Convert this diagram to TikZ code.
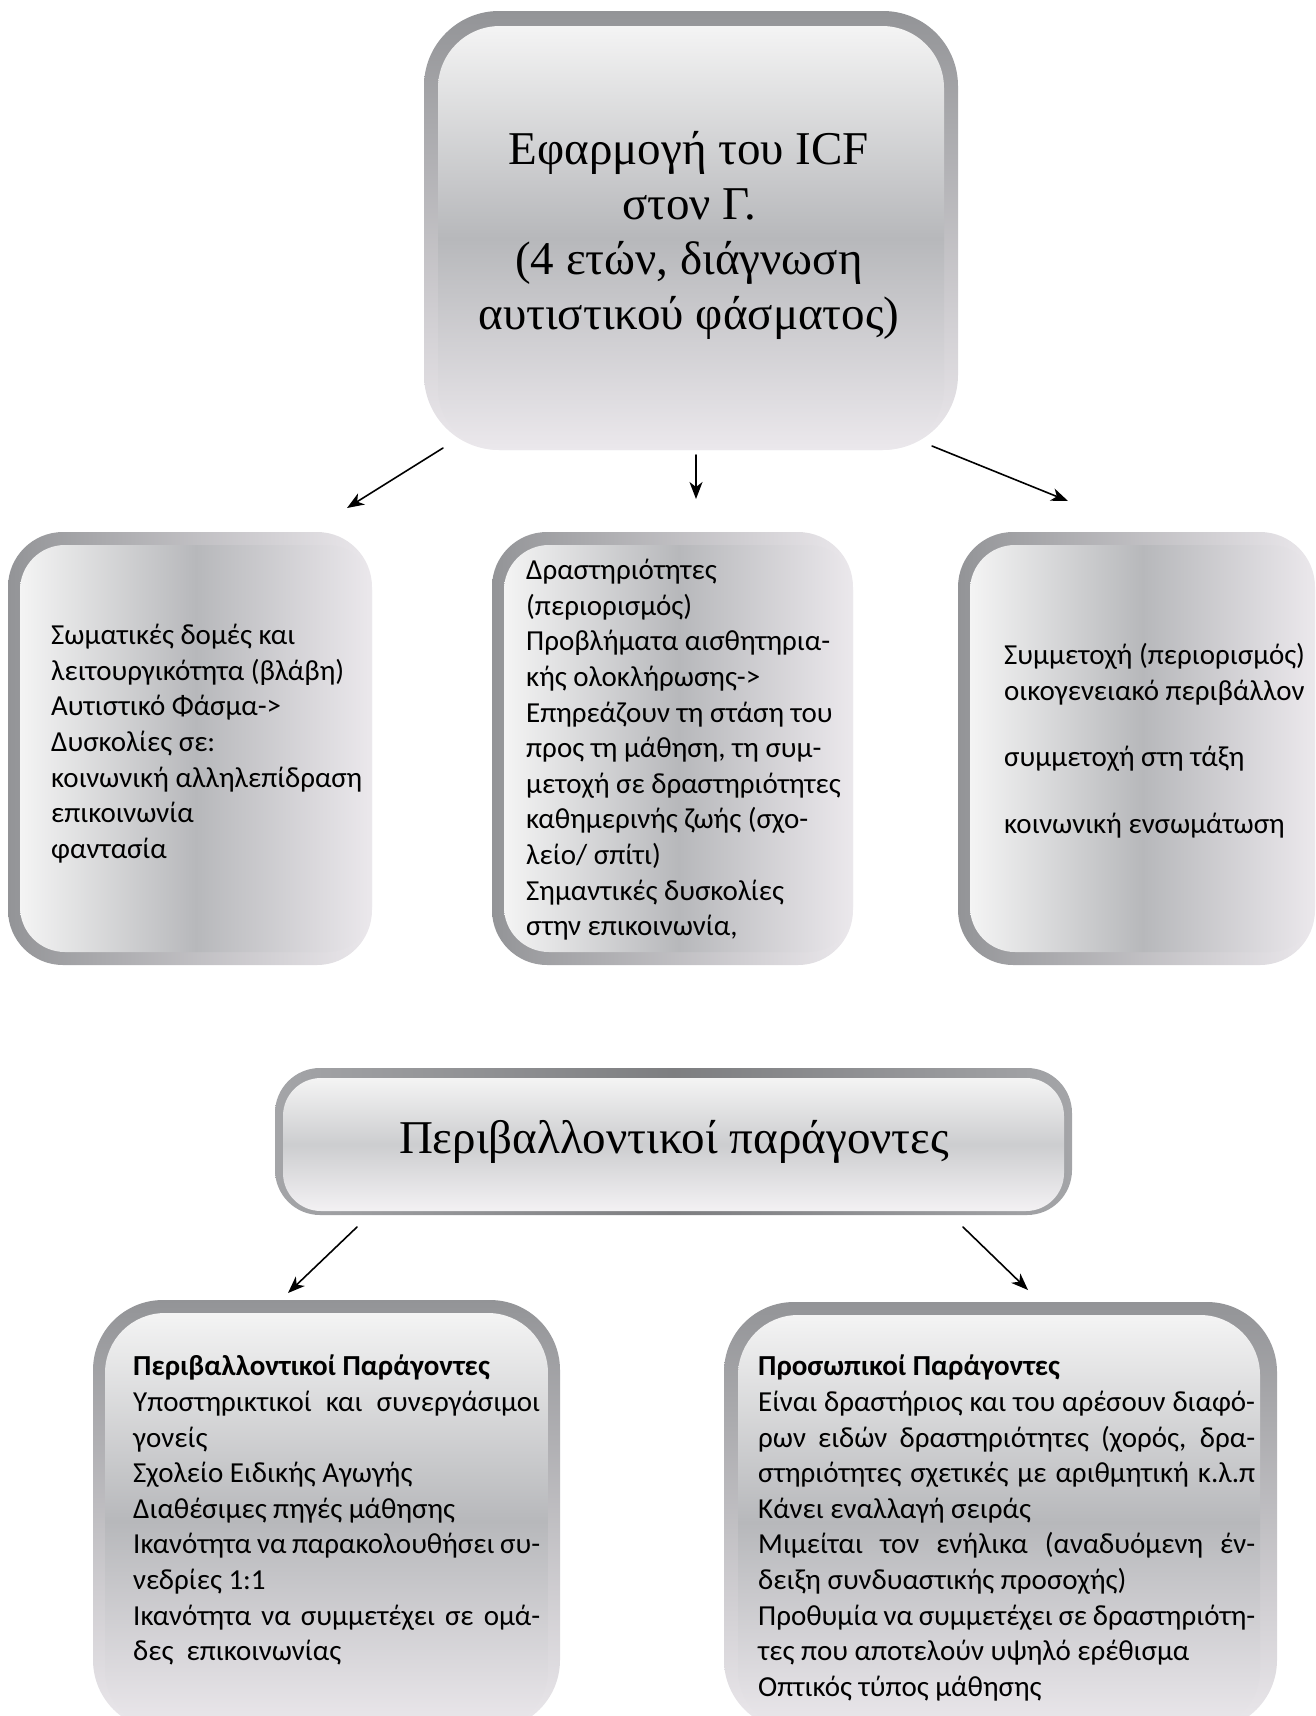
\documentclass[tikz,border=0pt]{standalone}
\usepackage{fontspec}
\setmainfont{Liberation Serif}
\newfontfamily\bodyfont{Carlito}
\usetikzlibrary{arrows.meta}
\definecolor{ptop}{HTML}{F4F4F4}
\definecolor{pmid}{HTML}{B7B8BB}
\definecolor{pbot}{HTML}{EBE8EC}
\definecolor{frame}{HTML}{939497}
\definecolor{hframe}{HTML}{A4A5A8}
\newcommand{\jline}[2]{\makebox[#1][s]{#2}}
\begin{document}
\begin{tikzpicture}[x=1pt,y=-1pt,line join=round,line cap=round,
  vpanel/.style={top color=ptop,bottom color=pbot,middle color=pmid},
  hpanel/.style={left color=ptop,right color=pbot,middle color=pmid},
  vframe/.style={top color=frame,bottom color=pbot},
  hframe/.style={left color=frame,right color=pbot},
  head/.style={font=\fontsize{47}{55}\selectfont,align=center,inner sep=0pt},
  txt/.style={font=\bodyfont\fontsize{29}{35.6}\selectfont,align=left,anchor=north west,inner sep=0pt},
  arr/.style={-{Stealth[length=17pt,width=13pt,inset=5pt]},line width=1.6pt}]
 \useasboundingbox (0,0) rectangle (1315,1716);
 % main box
 \shade[vframe,rounded corners=75] (424,11) rectangle (958,450);
 \shade[vpanel,rounded corners=62] (438,26) rectangle (944,450);
 \node[head] (icf) at (689,235) {Εφαρμογή του ICF\\στον Γ.\\(4 ετών, διάγνωση\\αυτιστικού φάσματος)};
 % three components
 \foreach \x/\w in {8/364,492/361,958/357}{
   \shade[hframe,rounded corners=55] (\x,532) rectangle ++(\w,433);
   \shade[hpanel,rounded corners=45] (\x+12,545) rectangle (\x+\w,952);
 }
 \node[txt] (body) at (51,624) {Σωματικές δομές και\\
   λειτουργικότητα (βλάβη)\\
   Αυτιστικό Φάσμα->\\
   Δυσκολίες σε:\\
   κοινωνική αλληλεπίδραση\\
   επικοινωνία\\
   φαντασία};
 \node[txt] (act) at (526,559) {Δραστηριότητες\\
   (περιορισμός)\\
   Προβλήματα αισθητηρια-\\
   κής ολοκλήρωσης->\\
   Επηρεάζουν τη στάση του\\
   προς τη μάθηση, τη συμ-\\
   μετοχή σε δραστηριότητες\\
   καθημερινής ζωής (σχο-\\
   λείο/ σπίτι)\\
   Σημαντικές δυσκολίες\\
   στην επικοινωνία,};
 \node[txt] (part) at (1004,643) {Συμμετοχή (περιορισμός)\\
   οικογενειακό περιβάλλον\\[31pt]
   συμμετοχή στη τάξη\\[31pt]
   κοινωνική ενσωμάτωση};
 % environment heading
 \shade[left color=hframe,right color=hframe,middle color=frame!85!black,rounded corners=45] (275,1068) rectangle (1072,1215);
 \shade[top color=ptop,bottom color=pbot!60!white,middle color=pmid!70!white,rounded corners=38] (283,1078) rectangle (1064,1211);
 \node[head] (envh) at (674,1142) {Περιβαλλοντικοί παράγοντες};
 % factor boxes
 \shade[vframe,rounded corners=70] (93,1300) rectangle (560,1730);
 \shade[vpanel,rounded corners=60] (105,1313) rectangle (548,1730);
 \shade[vframe,rounded corners=70] (724,1302) rectangle (1277,1730);
 \shade[vpanel,rounded corners=60] (738,1315) rectangle (1260,1730);
 \node[txt] (envf) at (133,1355) {\textbf{Περιβαλλοντικοί Παράγοντες}\\
   \jline{407pt}{Υποστηρικτικοί και συνεργάσιμοι}\\
   γονείς\\
   Σχολείο Ειδικής Αγωγής\\
   Διαθέσιμες πηγές μάθησης\\
   \jline{407pt}{Ικανότητα να παρακολουθήσει συ-}\\
   νεδρίες 1:1\\
   \jline{407pt}{Ικανότητα να συμμετέχει σε ομά-}\\
   δες\ \ επικοινωνίας};
 \node[txt] (pers) at (758,1355) {\textbf{Προσωπικοί Παράγοντες}\\
   \jline{497pt}{Είναι δραστήριος και του αρέσουν διαφό-}\\
   \jline{497pt}{ρων ειδών δραστηριότητες (χορός, δρα-}\\
   \jline{497pt}{στηριότητες σχετικές με αριθμητική κ.λ.π}\\
   Κάνει εναλλαγή σειράς\\
   \jline{497pt}{Μιμείται τον ενήλικα (αναδυόμενη έν-}\\
   δειξη συνδυαστικής προσοχής)\\
   \jline{497pt}{Προθυμία να συμμετέχει σε δραστηριότη-}\\
   τες που αποτελούν υψηλό ερέθισμα\\
   Οπτικός τύπος μάθησης};
 % arrows
 \coordinate (a1) at (443,448); \coordinate (b1) at (347,508);
 \coordinate (a2) at (696,455); \coordinate (b2) at (696,499);
 \coordinate (a3) at (932,446); \coordinate (b3) at (1068,501);
 \coordinate (a4) at (357,1227); \coordinate (b4) at (288,1293);
 \coordinate (a5) at (963,1227); \coordinate (b5) at (1028,1290);
 \foreach \i in {1,...,5} \draw[arr] (a\i) -- (b\i);
\end{tikzpicture}
\end{document}
